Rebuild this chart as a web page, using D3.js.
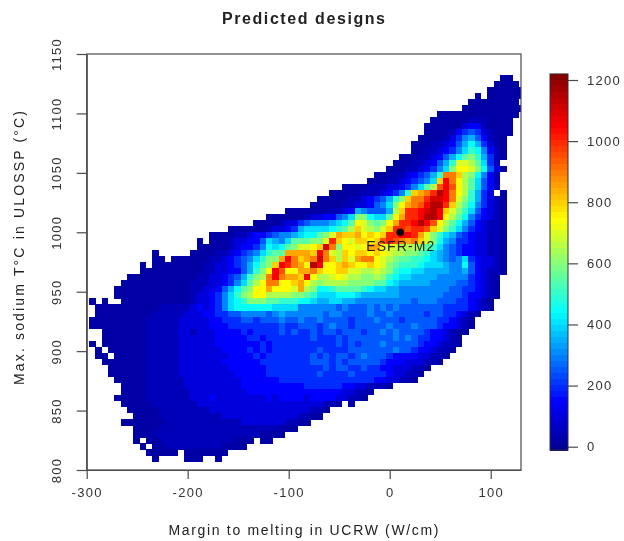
<!DOCTYPE html>
<html><head><meta charset="utf-8">
<script src="https://cdnjs.cloudflare.com/ajax/libs/d3/7.8.5/d3.min.js"></script>
<style>
html,body{margin:0;padding:0;background:#fff}
svg{display:block;filter:blur(0.55px)}
text{font-family:"Liberation Sans",Arial,sans-serif;fill:#222}
.tick text{font-size:13px;letter-spacing:1.3px;fill:#333}
</style></head><body>
<script>
const titleText = "Predicted designs";
const xLabel = "Margin to melting in UCRW (W/cm)";
const yLabel = "Max. sodium T°C in ULOSSP (°C)";
const xTicks = [-300,-200,-100,0,100];
const yTicks = [800,850,900,950,1000,1050,1100,1150];
const colorTicks = [0,200,400,600,800,1000,1200];
const refPoint = {name:"ESFR-M2", x:10.4, y:1000};
// histogram bins: width/height in data units, left edge of bin column 0, top edge of bin row 0
const binX0 = -297.7, binDX = 6.26, binYTop = 1132.3, binDY = 5.08;
// symbol -> count: 0 is a low count, then one step = 50 designs
const levelSymbols = "0123456789abcdefghijklmno";
const rowStart = [65,64,63,61,60,59,55,54,53,53,52,51,51,49,48,47,45,44,40,38,36,35,31,28,26,22,19,17,17,10,10,8,8,6,5,4,4,0,1,1,0,0,2,2,0,1,1,2,3,3,4,5,5,4,5,6,7,5,7,7,7,8,9,10];
const rowCells = [
"00",
"0000",
"000000",
"0.000000",
"00000000",
"0000000000",
"0000000000000",
"0000001110000",
"00000023310000",
"00001345421000",
"00001246753100",
"000112357974200",
"001123468a96310",
"0001123579bca7410",
"000112357aeedb841",
"0001123468cffec9520",
"0001123457aiigdc9631",
"00011234568glifdb8531",
"000011122346"+"8bd"+"jljfdb8531",
"000001112346a"+"ghiknlifda742"+".0",
"000001123457acg"+"iikmmlieca74210",
"0000011223568cfh"+"ijlnnkgdb964210",
"00000001"+"123765557"+"dgkklmnlgeca853210",
"0000001"+"2233568"+"cc988bfh"+"kklnnlf"+"db9643210",
"00001"+"224566678"+"9bfecbcfhk"+"klnljfdb97"+"532110",
"0000001"+"2234788889"+"abdgedcegk"+"kjkkjgeca8"+"6432110",
"0000112334"+"5667899bce"+"hgghfgfgkk"+"llkheca875"+"4322110",
"0."+"0001223358"+"768bbbccek"+"gfeggfgjkj"+"ihigec9764"+"4322110",
"00"+"0001"+"23346989"+"bceefgmi"+"cffefhhfee"+"dddcba8654"+"3322110",
"0....."+"0000"+"11234568abb"+"hhhhgliedg"+"fggfgfeddc"+"cba8765433"+"22110",
"00."+"000000"+"11234568acch"+"lighimigdg"+"ehiifedcbb"+"aa98765684"+"32210",
"0."+"00000000"+"112234579bcg"+"lkihfnlffg"+"hgffgfecba"+"aa98887669"+"532210",
"0000000000"+"11223357ac"+"fljffhhigf"+"fggeeddedc"+"a998877776"+"67532110",
"00000000000"+"11223457ac"+"dilihhglfd"+"defeddccdc"+"a988777766"+"66643210",
"00000000000"+"111223468b"+"dfiiffghfd"+"cddddccccb"+"b987777766"+"665543210",
"000000000000"+"11223579bc"+"ffhfffehdc"+"99abbbba98"+"8776666666"+"655443210",
"000000000000"+"1223468acd"+"ffddddccba"+"8889998777"+"7776666666"+"555433210",
"0.0.."+"00000000000"+"12234689ac"+"ccbbaaa998"+"7788776666"+"6666656665"+"55443210",
"000000000011111"+"2323468999"+"9998888666"+"6665655565"+"6565555555"+"44443210",
"0000000"+"0011111"+"2223344556"+"6665676666"+"6656655556"+"5565555545"+"5443210",
"00000000011111"+"2222233444"+"5545556556"+"5565555455"+"5655545555"+"5443210",
"00000000011111"+"2222233344"+"4444445445"+"5545655455"+"5556555655"+"5433210",
"000000011111"+"2212223333"+"4344445454"+"4545545554"+"5565655554"+"332100",
"000000011111"+"2222223333"+"3443444444"+"4544454555"+"5555656544"+"33210",
"0."+"000000011111"+"2222223333"+"3334344444"+"4444454545"+"5565555543"+"32110",
"0."+"000000111112"+"2222223333"+"4343444444"+"4544445555"+"5556554332"+"110",
"00."+"000001111122"+"2222223333"+"4344444445"+"4545545655"+"5433332211"+"0",
"00000001111122"+"2222233333"+"3444444445"+"5545455555"+"4333222110",
"0000001111122"+"2222223333"+"3344444444"+"4545544544"+"33222110",
"00000011111222"+"2222223333"+"3444444445"+"4444544444"+"322110",
"0000011111122"+"2222222333"+"3334444444"+"4444444433"+"22110",
"0000111111222"+"2222223333"+"3333334444"+"4433221110",
"0000111111122"+"2222222333"+"3333333333"+"3322110",
"000001111111222"+"3222222223"+"2333323333"+"22110",
"0000011111112222"+"2222222222"+"222222110"+".0",
"000001111111122"+"2222222222"+"2222110",
"000011111111112"+"2222222222"+"21100",
"00000001111111111"+"1122222221"+"100",
"000011111111111"+"11111111000",
"000111111111111111110000",
"0."+"00111111111111000"+".00",
"0."+"001111111110000",
"00000.0000000",
"0....000..0"
];

const W=624,H=541;
const x=d3.scaleLinear().domain([-300,130]).range([86.7,521]);
const y=d3.scaleLinear().domain([800,1150]).range([470,54]);
const barY=d3.scaleLinear().domain([0,1200]).range([446.7,80]);
const jet=d3.scaleLinear()
  .domain([-11,150,440,745,1045,1220])
  .range(["rgb(0,0,143)","rgb(0,0,255)","rgb(0,255,255)","rgb(255,255,0)","rgb(255,0,0)","rgb(128,0,0)"])
  .interpolate(d3.interpolateRgb);

const cells=[];
rowCells.forEach((s,j)=>{
  [...s].forEach((ch,k)=>{
    if(ch===".")return;
    const level=levelSymbols.indexOf(ch);
    cells.push({col:rowStart[j]+k,row:j,count:level===0?20:level*50});
  });
});

const svg=d3.select("body").append("svg").attr("width",W).attr("height",H);
svg.append("clipPath").attr("id","plot").append("rect")
  .attr("x",x(-300)).attr("y",y(1150)).attr("width",x(130)-x(-300)).attr("height",y(800)-y(1150));
svg.append("g").attr("clip-path","url(#plot)").attr("shape-rendering","crispEdges")
  .selectAll("rect").data(cells).join("rect")
  .attr("x",d=>x(binX0+d.col*binDX))
  .attr("y",d=>y(binYTop-d.row*binDY))
  .attr("width",x(binDX)-x(0)+0.3)
  .attr("height",y(0)-y(binDY)+0.3)
  .attr("fill",d=>jet(d.count));

const lineCol="#4a4a4a";
const fmt=d=>String(d);
svg.append("rect").attr("x",x(-300)).attr("y",y(1150))
  .attr("width",x(130)-x(-300)).attr("height",y(800)-y(1150))
  .attr("fill","none").attr("stroke",lineCol).attr("stroke-width",1.2);

const gx=svg.append("g").attr("transform",`translate(0,${y(800)})`)
  .call(d3.axisBottom(x).tickValues(xTicks).tickFormat(fmt).tickSize(9).tickSizeOuter(0).tickPadding(9));
const gy=svg.append("g").attr("transform",`translate(${x(-300)},0)`)
  .call(d3.axisLeft(y).tickValues(yTicks).tickFormat(fmt).tickSize(10).tickSizeOuter(0));
gy.selectAll(".tick text").attr("transform","rotate(-90)")
  .attr("text-anchor","middle").attr("x",0).attr("y",-29).attr("dy",0).attr("dominant-baseline","middle");
[gx,gy].forEach(g=>{g.select(".domain").attr("stroke",lineCol).attr("stroke-width",1.2);
  g.selectAll(".tick line").attr("stroke",lineCol).attr("stroke-width",1.2);});

svg.append("text").attr("x",303.5).attr("y",24).attr("text-anchor","middle")
  .attr("font-size",16).attr("font-weight","bold").attr("textLength",163).attr("fill","#111").text(titleText);
svg.append("text").attr("x",303.5).attr("y",535).attr("text-anchor","middle")
  .attr("font-size",14).attr("textLength",270).attr("fill","#333").text(xLabel);
svg.append("text").attr("transform","translate(24,248) rotate(-90)").attr("text-anchor","middle")
  .attr("font-size",14).attr("textLength",274).attr("fill","#333").text(yLabel);

// reference design
svg.append("circle").attr("cx",x(refPoint.x)).attr("cy",y(refPoint.y)).attr("r",3.8).attr("fill","#000");
svg.append("text").attr("x",x(refPoint.x)).attr("y",y(refPoint.y)+19).attr("text-anchor","middle")
  .attr("font-size",14).attr("textLength",68).attr("fill","#222").text(refPoint.name);

// colour bar
const bandCount=63, barMin=-11, barMax=1220, band=(barMax-barMin)/bandCount;
const bands=d3.range(bandCount).map(i=>barMin+i*band);
svg.append("g").attr("shape-rendering","crispEdges").selectAll("rect").data(bands).join("rect")
  .attr("x",550).attr("width",18)
  .attr("y",d=>barY(d+band)).attr("height",barY(0)-barY(band)+0.5)
  .attr("fill",d=>jet(d+band/2));
svg.append("rect").attr("x",550).attr("y",barY(barMax)).attr("width",18).attr("height",barY(barMin)-barY(barMax))
  .attr("fill","none").attr("stroke","#333").attr("stroke-width",1);
const gc=svg.append("g").attr("transform","translate(568,0)")
  .call(d3.axisRight(barY).tickValues(colorTicks).tickFormat(fmt).tickSize(10).tickSizeOuter(0).tickPadding(9));
gc.select(".domain").remove();
gc.selectAll(".tick line").attr("stroke",lineCol).attr("stroke-width",1.2);
</script>
</body></html>
